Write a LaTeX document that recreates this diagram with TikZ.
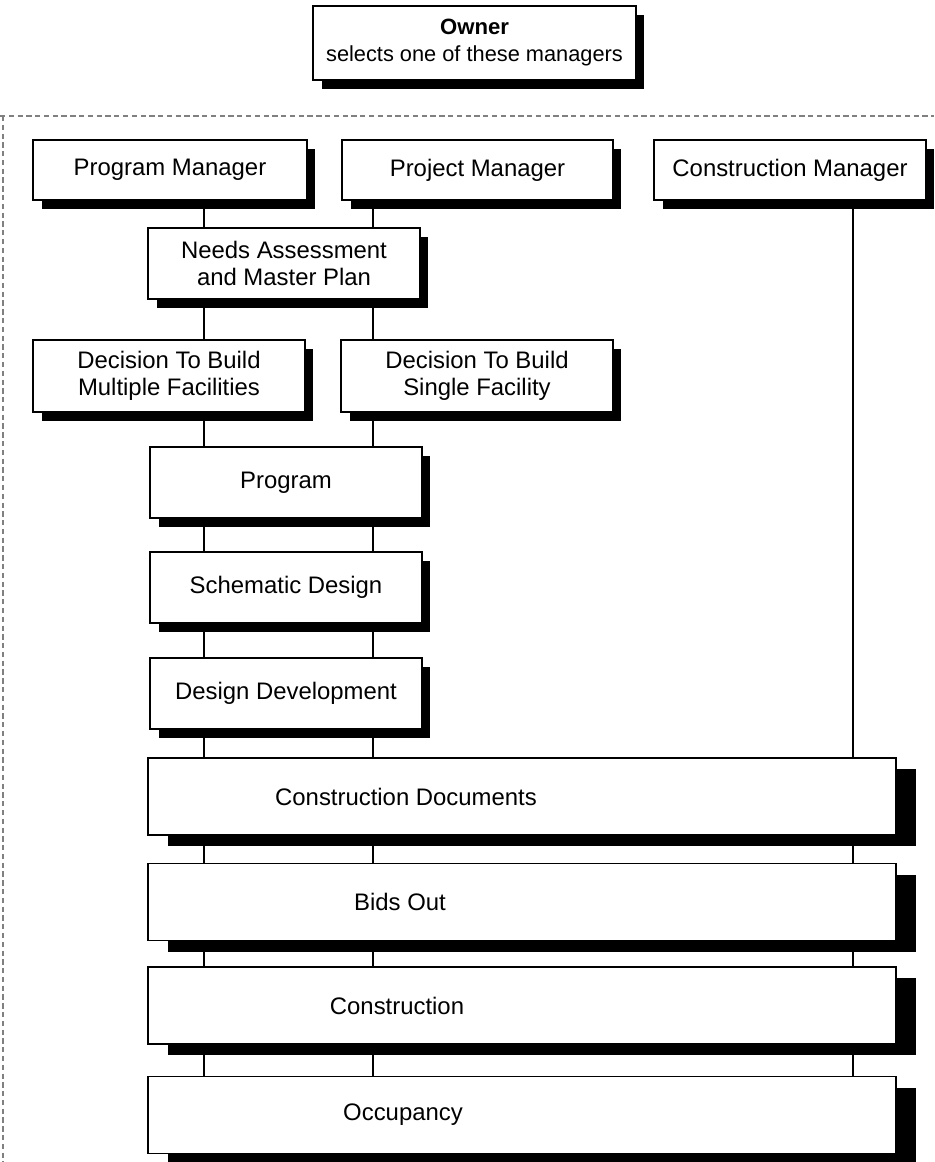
\documentclass[tikz,border=0pt]{standalone}
\usepackage{fontspec}
\setmainfont{Liberation Sans}
\usetikzlibrary{shadows,positioning}

\begin{document}
\begin{tikzpicture}[x = 0.02cm, y = -0.02cm,
                    font = \fontsize{13.6}{15.4}\selectfont]
  \useasboundingbox (0,0) rectangle (934,1162);
  \tikzset{PlainBoxStyle/.style = {draw,
                                   line width     = 1pt,
                                   fill           = white,
                                   align          = center,
                                   inner sep      = 0pt}}
  \tikzset{BoxStyle/.style     = {PlainBoxStyle,
                                  minimum width  = 5.44cm,
                                  minimum height = 1.42cm,
                                  general shadow = {fill = black,
                                                    shadow xshift = 0.17cm,
                                                    shadow yshift = -0.18cm}}}
  \tikzset{WideBoxStyle/.style = {PlainBoxStyle,
                                  minimum width  = 14.96cm,
                                  minimum height = 1.54cm,
                                  general shadow = {fill = black,
                                                    shadow xshift = 0.4cm,
                                                    shadow yshift = -0.22cm}}}
  \tikzset{LinkStyle/.style    = {line width = 1pt}}
  \tikzset{FrameStyle/.style   = {black!50,
                                  densely dashed,
                                  line width = 0.7pt}}
  % frame round the managers
  \coordinate (frameTL) at (3,116);
  \coordinate (frameTR) at (934,116);
  \coordinate (frameBL) at (3,1162);
  \draw[FrameStyle] (0,116) -- (frameTR);
  \draw[FrameStyle] (frameTL) -- (frameBL);
  % columns of the links
  \coordinate (colA) at (204,0);
  \coordinate (colB) at (373,0);
  \coordinate (colC) at (853,0);

  \node[BoxStyle, minimum width = 6.46cm, minimum height = 1.48cm] (owner) at (474.5,43)
       {{\fontsize{12.6}{14.2}\selectfont\bfseries Owner}\\
        {\fontsize{12.4}{14.2}\selectfont selects one of these managers}};

  \node[BoxStyle, minimum width = 5.48cm, minimum height = 1.2cm] (pm) at (170,170) {Program Manager};
  \node[BoxStyle, minimum width = 5.42cm, minimum height = 1.2cm] (jm) at (477.5,170) {Project Manager};
  \node[BoxStyle, minimum height = 1.2cm] (cm) at (790,170) {Construction Manager};

  \node[BoxStyle] (ns) at (284,263.5) {Needs Assessment\\and Master Plan};
  \node[BoxStyle, minimum height = 1.44cm] (dm) at (169,376) {Decision To Build\\Multiple Facilities};
  \node[BoxStyle, minimum height = 1.44cm] (ds) at (477,376) {Decision To Build\\Single Facility};

  \node[BoxStyle] (prog) at (286,482.5) {Program};
  \node[BoxStyle] (sd)   at (286,587.5) {Schematic Design};
  \node[BoxStyle] (dd)   at (286,693.5) {Design Development};

  \node[WideBoxStyle] (cd)  at (522,796.5) {};
  \node[WideBoxStyle] (bo)  at (522,902)   {};
  \node[WideBoxStyle] (con) at (522,1005.5) {};
  \node[WideBoxStyle] (occ) at (522,1115)  {};
  \node (cdText)  at (406,796.5) {Construction Documents};
  \node (boText)  at (400,902)   {Bids Out};
  \node (conText) at (397,1005.5) {Construction};
  \node (occText) at (403,1115)  {Occupancy};

  \foreach \a/\b in {pm/ns, ns/dm, dm/prog, prog/sd, sd/dd, dd/cd, cd/bo, bo/con, con/occ}
    \draw[LinkStyle] (\a.south -| colA) -- (\b.north -| colA);
  \foreach \a/\b in {jm/ns, ns/ds, ds/prog, prog/sd, sd/dd, dd/cd, cd/bo, bo/con, con/occ}
    \draw[LinkStyle] (\a.south -| colB) -- (\b.north -| colB);
  \foreach \a/\b in {cm/cd, cd/bo, bo/con, con/occ}
    \draw[LinkStyle] (\a.south -| colC) -- (\b.north -| colC);
\end{tikzpicture}
\end{document}
